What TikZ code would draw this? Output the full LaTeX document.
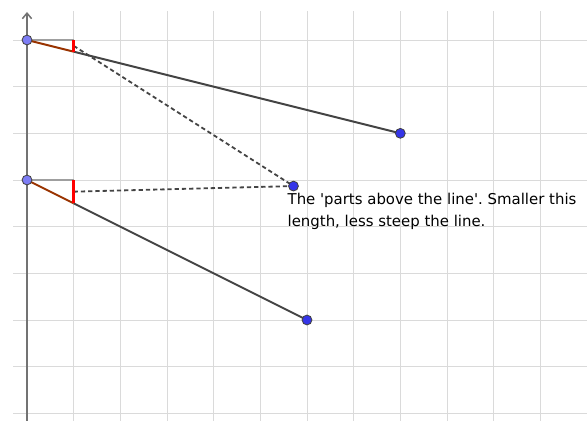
\documentclass[tikz,border=0pt]{standalone}
\usepackage{fontspec}
\setmainfont{DejaVu Sans}
\usetikzlibrary{arrows.meta}
\frenchspacing
\definecolor{gridgray}{HTML}{DADADA}
\definecolor{linegray}{HTML}{444444}
\definecolor{slopebrown}{HTML}{993300}
\definecolor{startblue}{HTML}{7D7DF5}
\definecolor{endblue}{HTML}{3535E8}
\tikzset{gridline/.style={draw=gridgray,line width=0.6pt},axisline/.style={draw=gray!90!black,line width=0.9pt,-{Straight Barb[length=1.2mm,width=2mm]}},runline/.style={draw=gray!75,line width=0.8pt},slopeline/.style={draw=slopebrown,line width=1.2pt},mainline/.style={draw=linegray,line width=1.2pt},redbar/.style={draw=red,line width=1.8pt},guide/.style={draw=linegray,line width=1.1pt,dash pattern=on 2.6pt off 1.8pt},startpt/.style={circle,draw=black!75,fill=startblue,line width=0.5pt,inner sep=0pt,minimum size=6pt},endpt/.style={circle,draw=black!75,fill=endblue,line width=0.5pt,inner sep=0pt,minimum size=6pt},note/.style={inner sep=0pt,align=left,font=\fontsize{9.1pt}{13.4pt}\selectfont}}

\begin{document}
\begin{tikzpicture}[x=1cm,y=1cm]
\useasboundingbox(-0.5786,-8.143)rectangle(12.0,0.857);
\foreach \i in {1,...,11}\draw[gridline](\i,0.62)--(\i,-8.2);
\foreach \j in {0,-1,...,-8}\draw[gridline](-0.3,\j)--(12.1,\j);
\draw[axisline](0,-8.2)--(0,0.6);
\coordinate(a1)at(0,0);\coordinate(p1)at(1,0);\coordinate(q1)at(1,-0.25);\coordinate(m1)at(1,-0.125);\coordinate(b1)at(8,-2);
\coordinate(a2)at(0,-3);\coordinate(p2)at(1,-3);\coordinate(q2)at(1,-3.5);\coordinate(m2)at(1,-3.25);\coordinate(b2)at(6,-6);
\coordinate(c)at(5.71,-3.13);
\draw[runline](a1)--(p1);\draw[runline](a2)--(p2);
\draw[mainline](q1)--(b1);\draw[mainline](q2)--(b2);
\draw[slopeline](a1)--(q1);\draw[slopeline](a2)--(q2);
\draw[guide](m1)--(c);\draw[guide](m2)--(c);
\draw[redbar](p1)--(q1);\draw[redbar](p2)--(q2);
\node[startpt](a1dot)at(a1){};\node[startpt](a2dot)at(a2){};
\node[endpt](b1dot)at(b1){};\node[endpt](b2dot)at(b2){};\node[endpt](cdot)at(c){};
\node[note,anchor=base west](txt)at(5.578,-4.0){The \textquotesingle parts above the line\textquotesingle. Smaller this\\length, less steep the line.};
\end{tikzpicture}
\end{document}
